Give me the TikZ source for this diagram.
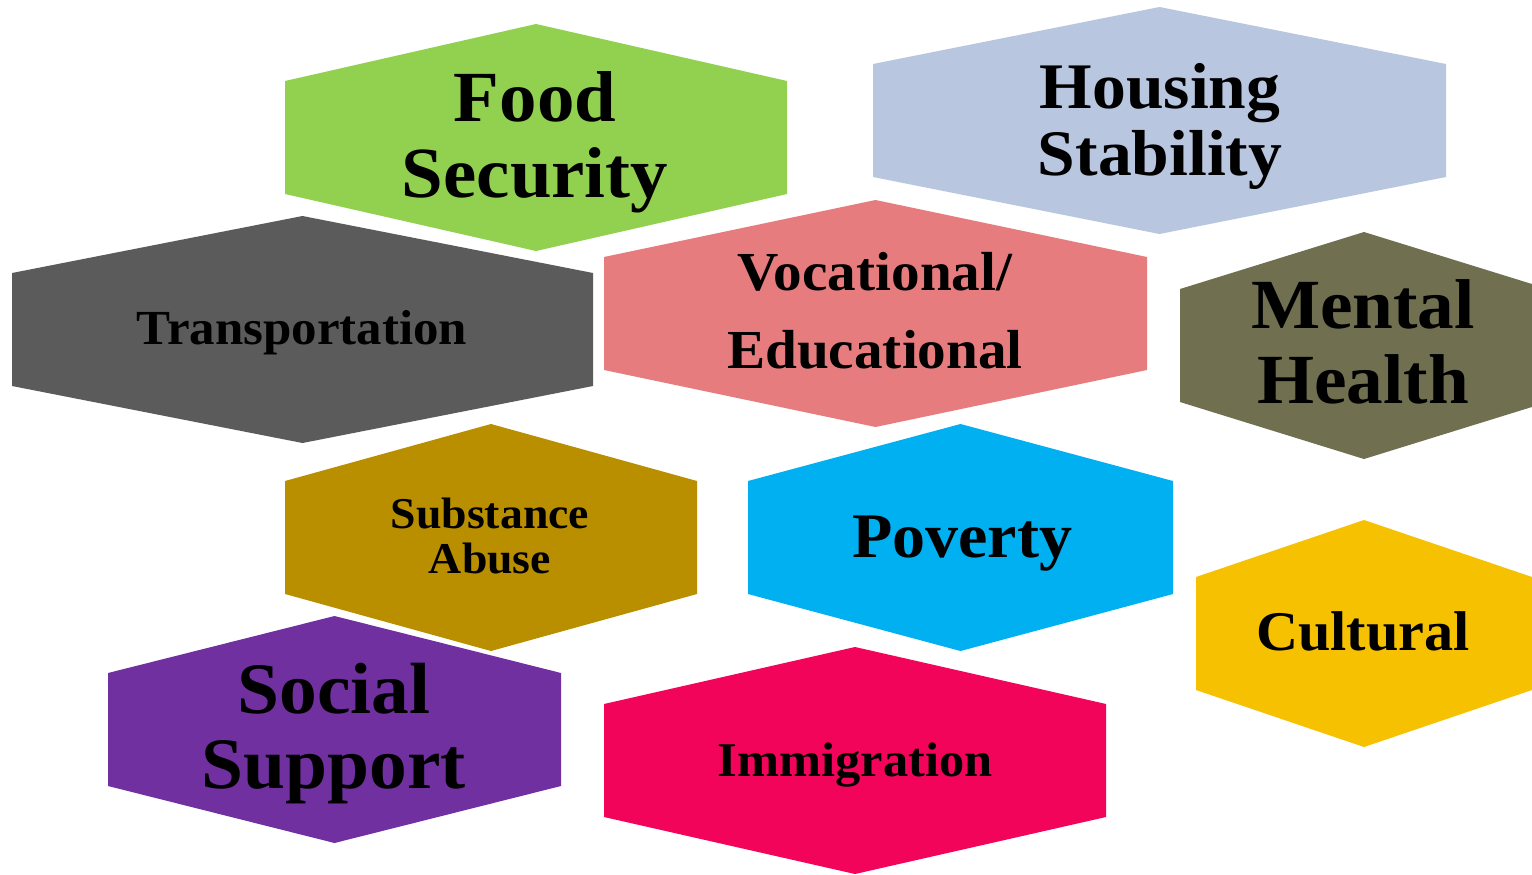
\documentclass[tikz,border=0pt]{standalone}
\usepackage{fontspec}
\setmainfont{Liberation Serif}[FakeStretch=1.04]
\definecolor{cFood}{HTML}{92D050}
\definecolor{cHousing}{HTML}{B9C6E0}
\definecolor{cTrans}{HTML}{5B5B5B}
\definecolor{cVoc}{HTML}{E67C7E}
\definecolor{cMental}{HTML}{707050}
\definecolor{cSubst}{HTML}{B98F00}
\definecolor{cPoverty}{HTML}{00B0F0}
\definecolor{cCultural}{HTML}{F5C100}
\definecolor{cSocial}{HTML}{7030A0}
\definecolor{cImmig}{HTML}{F2045B}
\newcommand{\hexa}[4]{% left, right, top, colour
  \fill[#4] (#1,#3+57) -- ({(#1+#2)/2},#3) -- (#2,#3+57) -- (#2,#3+170)
    -- ({(#1+#2)/2},#3+227) -- (#1,#3+170) -- cycle;}
\newcommand{\lbfont}[2]{\fontsize{#1bp}{#2bp}\selectfont\bfseries}
\tikzset{
  label text/.style={anchor=base, align=center, inner sep=0pt, text=black}
}
\begin{document}
\begin{tikzpicture}[x=1bp, y=-1bp]
\clip (0,0) rectangle (1532,874);
\fill[white] (0,0) rectangle (1532,874);
% hexagons
\hexa{285}{787}{24}{cFood}
\hexa{873}{1446}{7}{cHousing}
\hexa{12}{593}{216}{cTrans}
\hexa{604}{1147}{200}{cVoc}
\hexa{1180}{1548}{232}{cMental}
\hexa{285}{697}{424}{cSubst}
\hexa{748}{1173}{424}{cPoverty}
\hexa{1196}{1532}{520}{cCultural}
\hexa{108}{561}{616}{cSocial}
\hexa{604}{1106}{647}{cImmig}
% labels (base anchor = baseline of the last line)
\node[label text, font=\lbfont{72}{76}] (food) at (535,197) {Food\\Security};
\node[label text, font=\lbfont{65}{67}] (housing) at (1160,175) {Housing\\Stability};
\node[label text, font=\lbfont{49}{58}] (trans) at (302,344) {Transportation};
\node[label text, font=\lbfont{55}{78}] (voc) at (875,368) {Vocational/\\Educational};
\node[label text, font=\lbfont{70.5}{75}] (mental) at (1363,403) {Mental\\Health};
\node[label text, font=\lbfont{44}{45}] (subst) at (490,573) {Substance\\Abuse};
\node[label text, font=\lbfont{63.5}{70}] (poverty) at (962,557) {Poverty};
\node[label text, font=\lbfont{56}{65}] (cultural) at (1363,650) {Cultural};
\node[label text, font=\lbfont{72.5}{75}] (social) at (334,788) {Social\\Support};
\node[label text, font=\lbfont{48.5}{58}] (immig) at (855,776) {Immigration};
\end{tikzpicture}
\end{document}
